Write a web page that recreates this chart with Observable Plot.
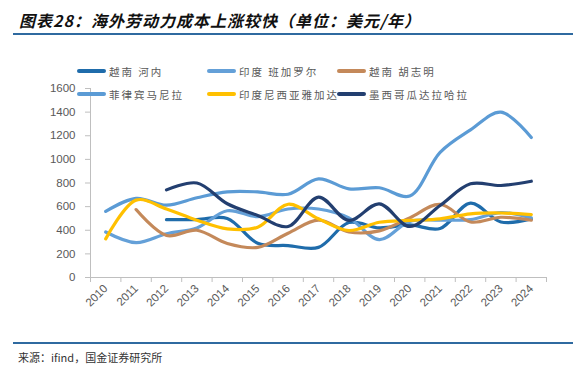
<!DOCTYPE html>
<html>
<head>
<meta charset="utf-8">
<script src="https://cdn.jsdelivr.net/npm/d3@7"></script>
<script src="https://cdn.jsdelivr.net/npm/@observablehq/plot@0.6"></script>
<style>
  body { margin: 0; background: #fff; }
  #wrap { position: relative; width: 583px; height: 375px; overflow: hidden; font-family: "Noto Sans CJK SC", sans-serif; }
  #title { position: absolute; left: 19px; top: 8px; font-size: 16px; font-weight: bold; font-style: italic; color: #111; white-space: nowrap; letter-spacing: 1px; }
  .rule { position: absolute; left: 13px; width: 560px; height: 2px; background: #2f6aa0; }
  #chart { position: absolute; left: 0; top: 40px; }
  .leg { position: absolute; display: flex; align-items: center; white-space: nowrap; }
  .leg .sw { width: 29px; height: 4px; border-radius: 2px; margin-right: 3px; }
  .leg .tx { font-size: 10.5px; letter-spacing: 2px; color: #595959; }
  #source { position: absolute; left: 18px; top: 349px; font-size: 11px; color: #333; white-space: nowrap; }
  [aria-label="y-axis tick"], [aria-label="x-axis tick"] { stroke: #bfbfbf; }
  [aria-label="y-axis tick label"], [aria-label="x-axis tick label"] { fill: #595959; }
</style>
</head>
<body>
<div id="wrap">
  <div id="title">图表28：海外劳动力成本上涨较快（单位：美元/年）</div>
  <div class="rule" style="top:33px"></div>
  <div id="chart"></div>
  <div id="legend"></div>
  <div class="rule" style="top:342px"></div>
  <div id="source">来源：ifind，国金证券研究所</div>
</div>
<script>
const years = [2010, 2011, 2012, 2013, 2014, 2015, 2016, 2017, 2018, 2019, 2020, 2021, 2022, 2023, 2024];
const yearLabels = ["2010","2011","2012","2013","2014","2015","2016","2017","2018","2019","2020","2021","2022","2023","2024"];
const yTicks = [0, 200, 400, 600, 800, 1000, 1200, 1400, 1600];

const seriesNames = ["越南 河内", "印度 班加罗尔", "越南 胡志明", "菲律宾马尼拉", "印度尼西亚雅加达", "墨西哥瓜达拉哈拉"];
const seriesColors = ["#1f6cab", "#64a0d8", "#c4895a", "#5b9bd5", "#ffc000", "#233f70"];

const hanoi       = [null, null, 490, 490, 500, 290, 270, 255, 465, 420, 445, 415, 630, 470, 495];
const bangalore   = [385, 295, 370, 420, 565, 515, 580, 580, 505, 320, 475, 485, 490, 550, 505];
const hochiminh   = [null, 575, 356, 400, 288, 255, 375, 485, 385, 395, 505, 620, 470, 510, 485];
const manila      = [560, 670, 612, 675, 725, 725, 705, 835, 750, 760, 690, 1060, 1250, 1400, 1185];
const jakarta     = [327, 655, 580, 485, 412, 426, 620, 497, 398, 468, 483, 497, 539, 546, 533];
const guadalajara = [null, null, 742, 800, 624, 525, 432, 680, 483, 624, 432, 610, 793, 779, 815];

const seriesValues = [hanoi, bangalore, hochiminh, manila, jakarta, guadalajara];

const tables = seriesValues.map((vals, i) =>
  years.map((yr, j) => ({year: yr, value: vals[j], series: seriesNames[i]}))
);

const lo = years[0] - 0.5, hi = years[years.length - 1] + 0.5;
const boundaries = years.map(y => y - 0.5).concat([hi]);

const chart = Plot.plot({
  width: 583,
  height: 300,
  marginLeft: 90,
  marginRight: 37,
  marginTop: 48,
  marginBottom: 63,
  style: {fontFamily: "'Liberation Sans', Arial, sans-serif", fontSize: "11.5px", background: "transparent", overflow: "visible"},
  x: {type: "linear", domain: [lo, hi]},
  y: {domain: [0, 1600]},
  marks: [
    Plot.axisY({ticks: yTicks, tickSize: 5, tickPadding: 10, tickFormat: d => String(d), label: null}),
    Plot.axisX({ticks: boundaries, tickSize: 5, tickFormat: () => "", label: null}),
    Plot.axisX({ticks: years, tickSize: 0, tickPadding: 9, tickRotate: -45, tickFormat: d => yearLabels[years.indexOf(d)], label: null}),
    Plot.ruleX([lo], {stroke: "#bfbfbf"}),
    Plot.ruleY([0], {stroke: "#bfbfbf"}),
    ...tables.map((t, i) => Plot.line(t, {
      x: "year", y: "value",
      stroke: seriesColors[i], strokeWidth: 3.2,
      curve: "catmull-rom", strokeLinecap: "round"
    }))
  ]
});
document.getElementById("chart").appendChild(chart);

const legend = document.getElementById("legend");
seriesNames.forEach((name, i) => {
  const col = i % 3, row = Math.floor(i / 3);
  const el = document.createElement("div");
  el.className = "leg";
  el.style.left = (77 + col * 130) + "px";
  el.style.top = (row === 0 ? 63 : 86) + "px";
  el.style.height = "16px";
  el.innerHTML = `<div class="sw" style="background:${seriesColors[i]}"></div><div class="tx">${name}</div>`;
  legend.appendChild(el);
});
</script>
</body>
</html>
